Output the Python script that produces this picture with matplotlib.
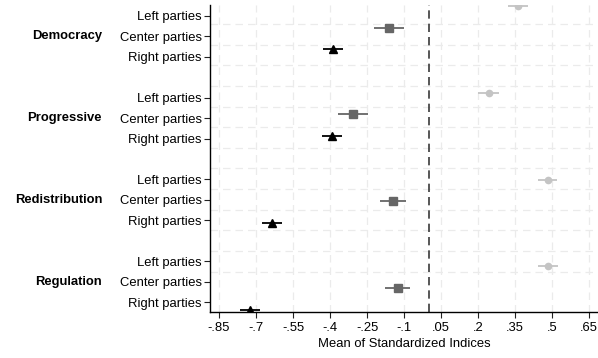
import numpy as np
import matplotlib
matplotlib.use('Agg')
import matplotlib.pyplot as plt

plt.rcParams['font.family'] = ['Liberation Sans', 'DejaVu Sans']

groups = ['Democracy', 'Progressive', 'Redistribution', 'Regulation']
parties = ['Left parties', 'Center parties', 'Right parties']

# means and half-width of the confidence interval, one row per group (Left, Center, Right)
means = [[0.363, -0.161, -0.389],
         [0.244, -0.308, -0.391],
         [0.482, -0.145, -0.636],
         [0.485, -0.126, -0.724]]
halfwidth = [[0.040, 0.060, 0.040],
             [0.043, 0.060, 0.040],
             [0.038, 0.054, 0.040],
             [0.040, 0.051, 0.042]]

xticks = [-0.85, -0.7, -0.55, -0.4, -0.25, -0.1, 0.05, 0.2, 0.35, 0.5, 0.65]
xticklabels = ['-.85', '-.7', '-.55', '-.4', '-.25', '-.1', '.05', '.2', '.35', '.5', '.65']

colors = ['#c4c4c4', '#666666', '#000000']
markers = ['o', 's', '^']
msizes = [4.5, 5.2, 5.4]
fs = 9.4


def main():
    fig = plt.figure(figsize=(5.98, 3.58), dpi=100)
    ax = fig.add_axes([210 / 598, 1 - 312 / 358, 388 / 598, 307 / 358])

    # label slots: 0,1,2, 4,5,6, 8,9,10, 12,13,14
    slots = np.array([4 * g + p for g in range(len(groups)) for p in range(3)])
    # markers sit on a slightly stretched scale relative to the labels
    mpos = -0.474 + 1.060 * slots

    for j in range(13):
        ax.axhline(0.405 + 1.008 * j, color='#ebebeb', lw=0.9, ls=(0, (6, 4)), zorder=0)
    for t in xticks:
        ax.axvline(t, color='#ebebeb', lw=0.9, ls=(0, (6, 4)), zorder=0)

    ax.axvline(0, color='#3a3a3a', lw=1.2, ls=(0, (5, 3)), zorder=1)

    for g in range(len(groups)):
        for p in range(3):
            i = 3 * g + p
            ax.errorbar(means[g][p], mpos[i], xerr=halfwidth[g][p], fmt=markers[p],
                        color=colors[p], ms=msizes[p], elinewidth=1.3, capsize=0, zorder=3)

    ax.set_xlim(-0.8865, 0.6863)
    ax.set_ylim(14.475, -0.523)
    ax.set_xticks(xticks)
    ax.set_xticklabels(xticklabels, fontsize=fs)
    ax.set_yticks(slots)
    ax.set_yticklabels(parties * len(groups), fontsize=fs)
    ax.tick_params(axis='both', direction='out', length=4, width=0.8, color='#222222')
    ax.tick_params(axis='x', pad=3)
    ax.tick_params(axis='y', pad=2)
    for s in ['top', 'right']:
        ax.spines[s].set_visible(False)
    for s in ['left', 'bottom']:
        ax.spines[s].set_linewidth(1.0)
    ax.set_xlabel('Mean of Standardized Indices', fontsize=fs, labelpad=3)

    for g in range(len(groups)):
        y = ax.transData.transform((0, slots[3 * g + 1]))[1]
        yf = fig.transFigure.inverted().transform((0, y))[1]
        fig.text(102 / 598, yf, groups[g], ha='right', va='center',
                 fontsize=fs, fontweight='bold')

    fig.savefig('out.png', dpi=100)
    plt.close(fig)


if __name__ == '__main__':
    main()
